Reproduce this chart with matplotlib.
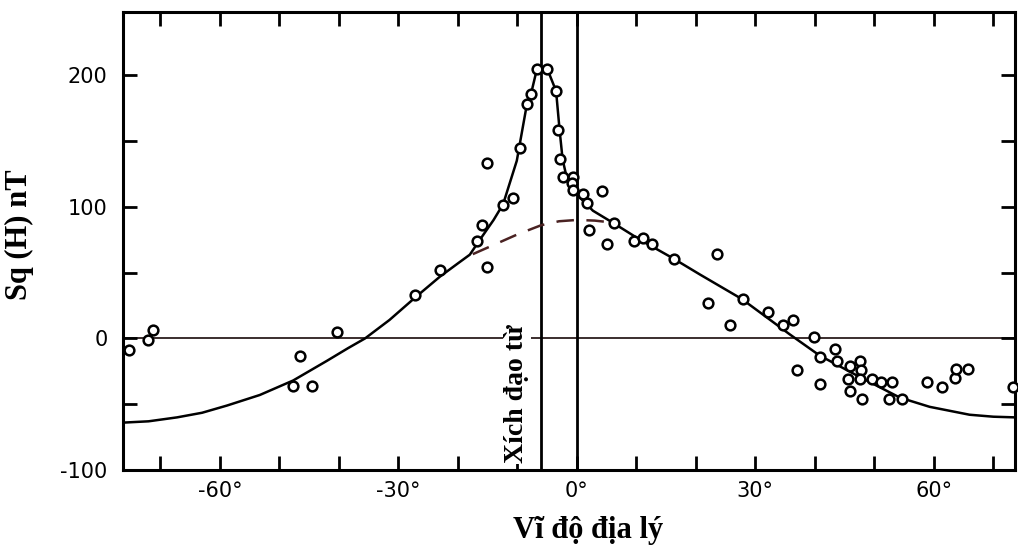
import matplotlib
matplotlib.use("Agg")
import matplotlib.pyplot as plt
import numpy as np

# observed Sq(H) amplitudes vs geographic latitude
lat_obs = [-75.3, -72.1, -71.3, -47.7, -46.6, -44.5, -40.3, -27.2, -23.0, -16.8,
           -16.0, -15.1, -15.1, -12.4, -10.8, -9.6, -8.4, -7.7, -6.7, -5.0,
           -3.5, -3.2, -2.9, -2.4, -0.7, -0.9, -0.7, 1.0, 1.7, 2.0,
           4.2, 5.0, 6.3, 9.6, 11.1, 12.7, 16.3, 22.0, 23.5, 25.7,
           27.9, 32.1, 34.6, 36.3, 37.0, 39.8, 40.8, 40.8, 43.4, 43.7,
           45.5, 45.9, 45.9, 47.6, 47.7, 47.6, 47.9, 49.6, 51.1, 52.4,
           52.9, 54.6, 58.8, 61.3, 63.5, 63.7, 65.7, 73.3]
sq_obs = [-9, -1.5, 6, -36, -13, -36, 5, 32.6, 52, 74,
          86, 54, 133, 101, 107, 145, 178, 186, 205, 205,
          188, 158, 136, 123, 123, 118, 113, 110, 103, 82,
          112, 72, 88, 74, 76, 72, 60, 27, 64, 10,
          30, 20, 10, 14, -24, 1, -14, -35, -8, -17,
          -31, -21, -40, -17, -24, -31, -46, -31, -33, -46,
          -33, -46, -33, -37, -30, -23, -23, -37]

# fitted curve including the equatorial electrojet
lat_fit = [-76.3, -72.0, -67.2, -63.0, -58.8, -53.3, -47.7, -42.0, -38.5, -35.6,
           -31.5, -27.2, -23.0, -20.0, -18.0, -16.3, -14.0, -12.4, -10.1, -8.4,
           -7.7, -6.7, -5.0, -3.5, -2.9, -2.4, -1.7, -0.8, 0.5, 2.7,
           6.0, 10.6, 16.1, 20.7, 27.7, 35.8, 40.8, 47.0, 54.3, 59.3,
           66.0, 70.0, 73.6]
sq_fit = [-64, -63, -60, -56.5, -51, -43, -32, -17, -7.5, 0,
          14, 31, 47, 57, 63.6, 75, 90, 102, 135, 178,
          186, 205, 205, 188, 158, 136, 122, 117, 107, 97,
          88, 75, 61, 48.5, 30, 3, -13, -28, -45, -52,
          -58, -59.5, -60]

# curve without the electrojet
lat_base = [-17.5, -14, -10, -6, -3, 0, 3, 6]
sq_base = [64, 71, 79, 86, 89, 90, 89.5, 88]

mag_equator = -6
xtick_pos = list(range(-70, 80, 10))
xtick_lab = ['-60°' if t == -60 else '-30°' if t == -30 else '0°' if t == 0
             else '30°' if t == 30 else '60°' if t == 60 else '' for t in xtick_pos]
ytick_pos = [-100, -50, 0, 50, 100, 150, 200]
ytick_lab = ['-100', '', '0', '', '100', '', '200']

serif = 'Liberation Serif'

fig = plt.figure(figsize=(10.18, 5.45), dpi=100)
ax = fig.add_axes([0.1208, 0.1376, 0.876, 0.8404])

ax.axhline(0, color='#2b1d1d', lw=1.3, zorder=1)
ax.axvline(mag_equator, color='black', lw=2, zorder=2)
ax.axvline(0, color='black', lw=2, zorder=2)

ax.plot(lat_base, sq_base, color='#4a2222', lw=1.8, dashes=(7, 5), zorder=3)
ax.plot(lat_fit, sq_fit, color='black', lw=1.8, zorder=3,
        solid_joinstyle='round')
ax.plot(lat_obs, sq_obs, 'o', ms=7, mfc='white', mec='black', mew=1.8,
        zorder=4, clip_on=False)

ax.text(-10.1, -42, 'Xích đạo từ', rotation=90, ha='center', va='center',
        fontsize=20, fontweight='bold', family=serif, zorder=5,
        bbox=dict(facecolor='white', edgecolor='none', pad=1))

ax.set_xlim(-76.3, 73.6)
ax.set_ylim(-100, 248)
ax.set_xticks(xtick_pos)
ax.set_xticklabels(xtick_lab)
ax.set_yticks(ytick_pos)
ax.set_yticklabels(ytick_lab)
ax.tick_params(axis='both', direction='in', length=10, width=2,
               top=True, right=True, labelsize=15)
ax.tick_params(axis='y', pad=11)
ax.tick_params(axis='x', pad=8)
for s in ax.spines.values():
    s.set_linewidth(2.2)

fig.text(0.0187, 0.569, 'Sq (H) nT', rotation=90, ha='center', va='center',
         fontsize=22, fontweight='bold', family=serif)
fig.text(0.5776, 0.0275, 'Vĩ độ địa lý', ha='center', va='center',
         fontsize=22, fontweight='bold', family=serif)

fig.savefig('out.png', dpi=100)
